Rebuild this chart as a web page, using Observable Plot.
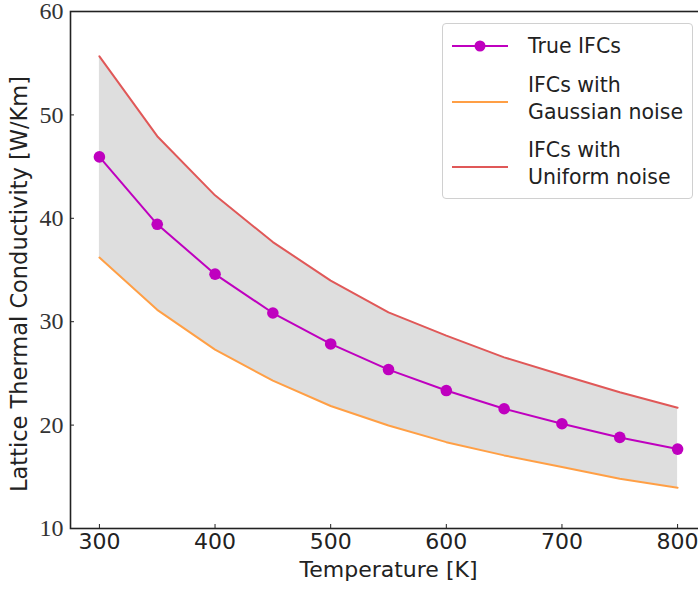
<!DOCTYPE html>
<html>
<head>
<meta charset="utf-8">
<script src="https://cdn.jsdelivr.net/npm/d3@7"></script>
<script src="https://cdn.jsdelivr.net/npm/@observablehq/plot@0.6"></script>
<style>
  html, body { margin: 0; padding: 0; background: #fff; }
  #wrap { position: relative; width: 698px; height: 593px; overflow: hidden; }
  #wrap svg.plot { position: absolute; left: 0; top: 0; max-width: none !important; }
  g[aria-label="y-axis tick label"] text { font-family: "Liberation Serif", serif; }
  g[aria-label="x-axis tick label"] text { font-family: "DejaVu Sans", sans-serif; }
  g[aria-label="x-axis label"] text { font-family: "DejaVu Sans", sans-serif; }
  #legend { position: absolute; left: 442px; top: 23px; width: 249px; height: 174px;
    border: 1px solid #d0d0d0; border-radius: 4px; background: rgba(255,255,255,0.85);
    font-family: "DejaVu Sans", sans-serif; font-size: 20.5px; color: #222; }
  .lg-text { position: absolute; left: 85px; line-height: 27px; white-space: pre; }
  .lg-handle { position: absolute; left: 9px; }
</style>
</head>
<body>
<div id="wrap"></div>
<script>
const temps = [300, 350, 400, 450, 500, 550, 600, 650, 700, 750, 800];
const trueIFC = [45.94, 39.42, 34.6, 30.84, 27.85, 25.37, 23.34, 21.58, 20.13, 18.81, 17.68];
const gaussianNoise = [36.2, 31.15, 27.3, 24.3, 21.85, 19.96, 18.35, 17.07, 15.94, 14.82, 13.95];
const uniformNoise = [55.66, 47.94, 42.22, 37.7, 33.97, 30.9, 28.65, 26.55, 24.85, 23.18, 21.67];
const seriesNames = ["True IFCs", "IFCs with\nGaussian noise", "IFCs with\nUniform noise"];
const seriesColors = ["#bf00bf", "#ff9f45", "#e05858"];
const bandColor = "#dedede";
const xTicks = [300, 400, 500, 600, 700, 800];
const yTicks = [10, 20, 30, 40, 50, 60];
const xLabel = "Temperature [K]";
const yLabel = "Lattice Thermal Conductivity [W/Km]";

const rows = temps.map((t, i) => ({t, tru: trueIFC[i], gau: gaussianNoise[i], uni: uniformNoise[i]}));

const chart = Plot.plot({
  width: 706,
  height: 593,
  marginLeft: 70,
  marginRight: 0,
  marginTop: 11,
  marginBottom: 65,
  style: {fontSize: "21px", color: "#222", background: "transparent", maxWidth: "none"},
  x: {domain: [275, 825]},
  y: {domain: [10, 60]},
  marks: [
    Plot.areaY(rows, {x: "t", y1: "gau", y2: "uni", fill: bandColor}),
    Plot.line(rows, {x: "t", y: "gau", stroke: seriesColors[1], strokeWidth: 2}),
    Plot.line(rows, {x: "t", y: "uni", stroke: seriesColors[2], strokeWidth: 2}),
    Plot.line(rows, {x: "t", y: "tru", stroke: seriesColors[0], strokeWidth: 2}),
    Plot.dot(rows, {x: "t", y: "tru", fill: seriesColors[0], r: 5.8}),
    Plot.axisX(xTicks, {tickSize: -4, tickPadding: 9, stroke: "#222", fill: "#222", label: null, fontSize: 22}),
    Plot.axisX({ticks: [], tickSize: 0, label: xLabel, labelAnchor: "center", labelOffset: 48, labelArrow: "none", fontSize: 22, fill: "#222"}),
    Plot.axisY(yTicks, {tickSize: -4, tickPadding: 11, stroke: "#222", fill: "#333", label: null, fontSize: 24}),
    Plot.text([yLabel], {frameAnchor: "left", textAnchor: "middle", rotate: -90, dx: -51, dy: 14, fontSize: 22.5, fill: "#222", fontFamily: "DejaVu Sans"}),
    Plot.frame({stroke: "#222", strokeWidth: 1.6})
  ]
});
document.getElementById("wrap").appendChild(chart);

// Legend
const legend = document.createElement("div");
legend.id = "legend";
const rowCenters = [22, 75, 140];
seriesNames.forEach((name, i) => {
  const lines = name.split("\n");
  const h = lines.length * 27;
  const text = document.createElement("div");
  text.className = "lg-text";
  text.textContent = name;
  text.style.top = (rowCenters[i] - h / 2) + "px";
  legend.appendChild(text);
  const svg = d3.create("svg").attr("class", "lg-handle").attr("width", 58).attr("height", 14)
    .style("top", (rowCenters[i] + (lines.length > 1 ? 2.5 : 0) - 7) + "px");
  svg.append("line").attr("x1", 0).attr("x2", 56).attr("y1", 7).attr("y2", 7)
    .attr("stroke", seriesColors[i]).attr("stroke-width", 2);
  if (i === 0) svg.append("circle").attr("cx", 28).attr("cy", 7).attr("r", 5.5).attr("fill", seriesColors[i]);
  legend.appendChild(svg.node());
});
document.getElementById("wrap").appendChild(legend);
</script>
</body>
</html>
